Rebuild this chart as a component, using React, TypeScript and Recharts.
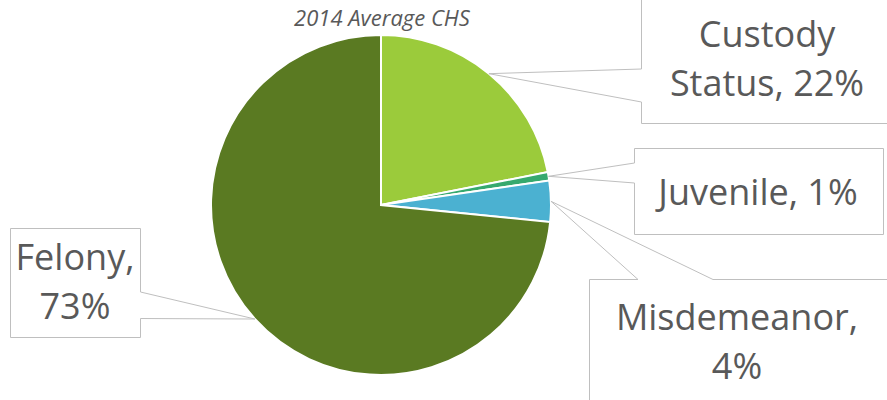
import { PieChart, Pie, Cell } from "recharts";

const categories = ["Custody Status", "Juvenile", "Misdemeanor", "Felony"];
const shares = [21.9, 0.8, 3.9, 73.4];
const percentLabels = ["22%", "1%", "4%", "73%"];
const sliceColors = ["#9bcb3b", "#36a96e", "#4bb1d1", "#5a7a22"];

const chartTitle = "2014 Average CHS";

const data = categories.map((name, i) => ({ name, value: shares[i], pct: percentLabels[i] }));

// callout box layout (pixels), wedge side and where the wedge leaves the box
const callouts = [
  { box: [641.5, -5, 900, 123.5], side: "left", gap: [69, 102], cx: 767, y0: 47, wrap: [1] },
  { box: [634.5, 148.5, 883.5, 234.5], side: "left", gap: [163, 183], cx: 758, y0: 205, wrap: [] },
  { box: [589.5, 279.5, 900, 410], side: "top", gap: [638, 713], cx: 737, y0: 330, wrap: [1] },
  { box: [10.5, 228.5, 140.5, 337.5], side: "right", gap: [292, 318.5], cx: 75, y0: 270, wrap: [1] },
];

const RADIAN = Math.PI / 180;
const FONT = "'Open Sans', sans-serif";
const TEXT = "#595959";

function splitLines(label: string, wrap: number[]) {
  const words = label.split(" ");
  const lines: string[] = [];
  let start = 0;
  wrap.forEach((w) => {
    lines.push(words.slice(start, w).join(" "));
    start = w;
  });
  lines.push(words.slice(start).join(" "));
  return lines;
}

function calloutPath(c: (typeof callouts)[number], px: number, py: number) {
  const [x0, y0, x1, y1] = c.box;
  const [a, b] = c.gap;
  if (c.side === "left")
    return `M${x0},${y0} L${x1},${y0} L${x1},${y1} L${x0},${y1} L${x0},${b} L${px},${py} L${x0},${a} Z`;
  if (c.side === "right")
    return `M${x0},${y0} L${x1},${y0} L${x1},${a} L${px},${py} L${x1},${b} L${x1},${y1} L${x0},${y1} Z`;
  return `M${x0},${y0} L${a},${y0} L${px},${py} L${b},${y0} L${x1},${y0} L${x1},${y1} L${x0},${y1} Z`;
}

function renderCallout(props: any) {
  const { cx, cy, midAngle, outerRadius, index, payload } = props;
  const c = callouts[index];
  const px = cx + outerRadius * Math.cos(-midAngle * RADIAN);
  const py = cy + outerRadius * Math.sin(-midAngle * RADIAN);
  const item = payload?.payload ?? payload;
  const lines = splitLines(`${item.name}, ${item.pct}`, c.wrap);
  return (
    <g key={`callout-${index}`}>
      <path d={calloutPath(c, px, py)} fill="#ffffff" stroke="#bfbfbf" strokeWidth={1} />
      <text x={c.cx} y={c.y0} textAnchor="middle" fill={TEXT} fontSize={36} fontFamily={FONT}>
        {lines.map((line, i) => (
          <tspan key={line} x={c.cx} dy={i === 0 ? 0 : 49}>
            {line}
          </tspan>
        ))}
      </text>
    </g>
  );
}

export default function App() {
  return (
    <div style={{ position: "fixed", left: 0, top: 0, width: 887, height: 400, background: "#fff" }}>
      <PieChart width={887} height={400} margin={{ top: 0, right: 0, bottom: 0, left: 0 }}>
        <Pie
          data={data}
          dataKey="value"
          nameKey="name"
          cx={381}
          cy={205}
          outerRadius={170}
          startAngle={90}
          endAngle={-270}
          stroke="#ffffff"
          strokeWidth={2}
          label={renderCallout}
          labelLine={false}
          isAnimationActive={false}
        >
          {data.map((d, i) => (
            <Cell key={d.name} fill={sliceColors[i]} />
          ))}
        </Pie>
      </PieChart>
      <div
        style={{
          position: "absolute",
          left: 0,
          top: 4,
          width: 764,
          textAlign: "center",
          fontFamily: FONT,
          fontStyle: "italic",
          fontSize: 22,
          color: TEXT,
          lineHeight: "26px",
        }}
      >
        {chartTitle}
      </div>
    </div>
  );
}
